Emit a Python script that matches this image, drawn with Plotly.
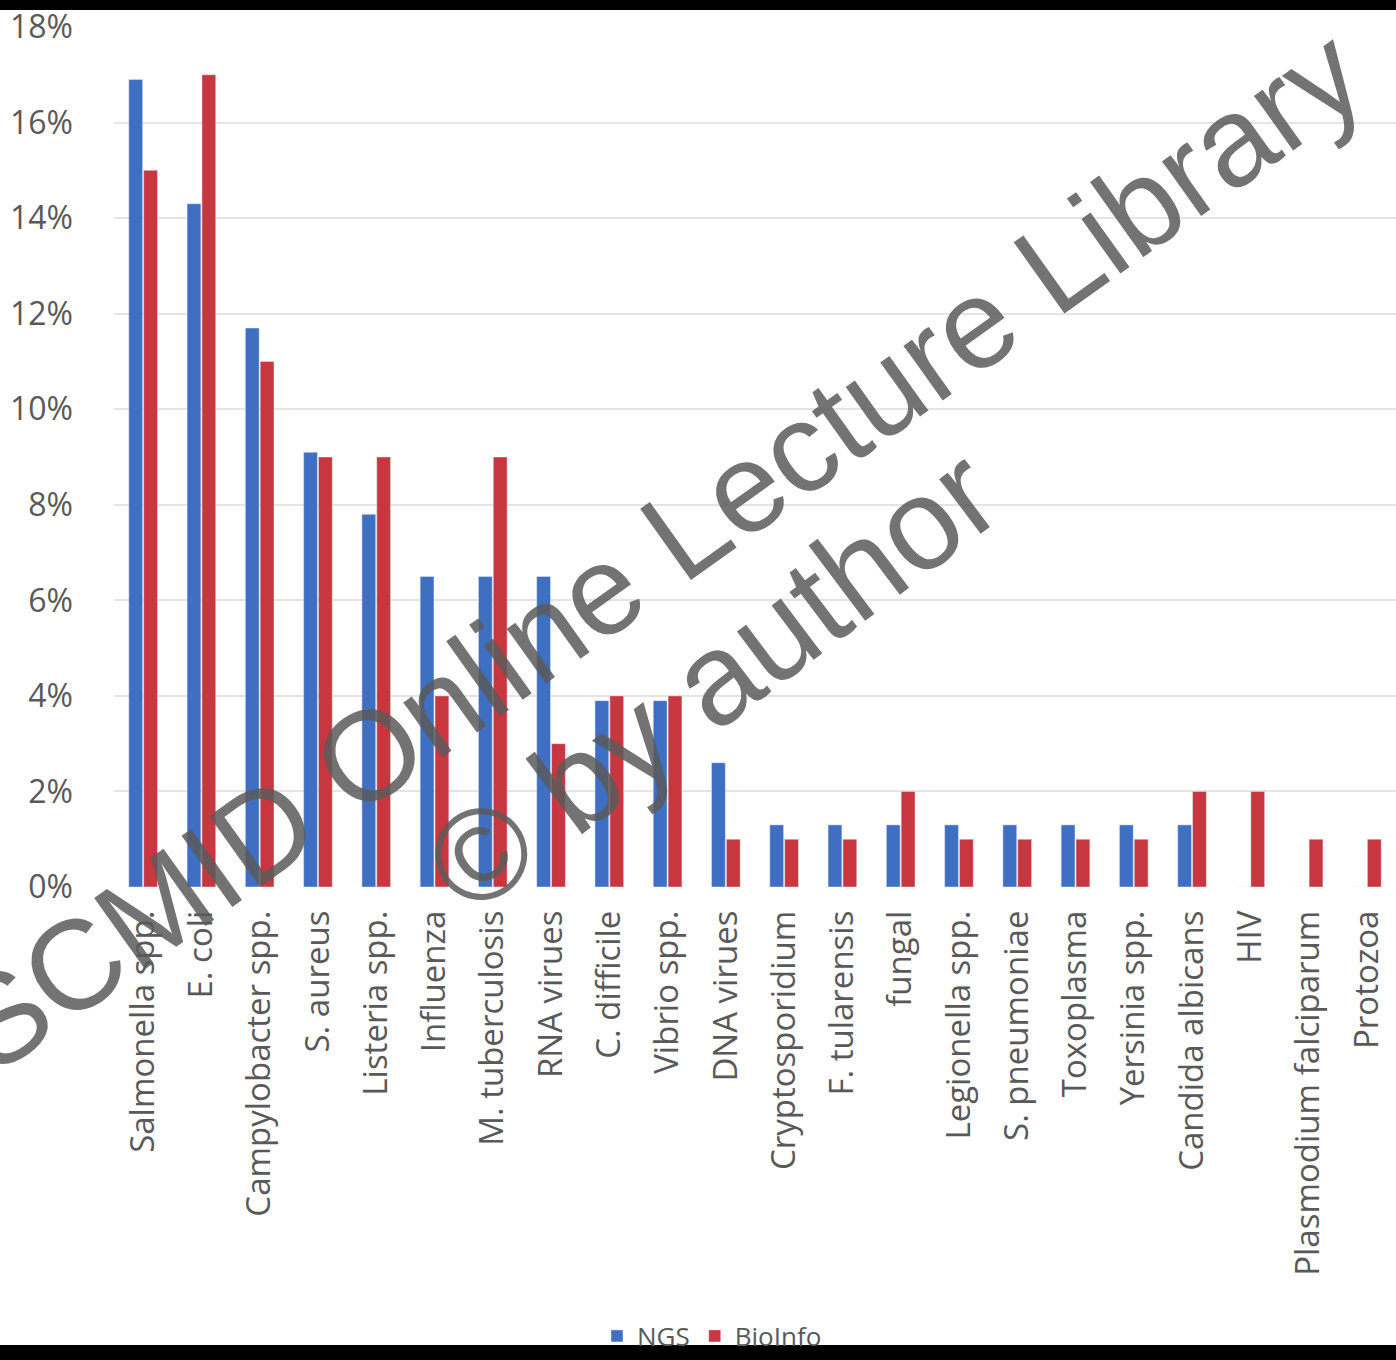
import plotly.graph_objects as go

categories = ["Salmonella spp.", "E. coli", "Campylobacter spp.", "S. aureus", "Listeria spp.",
              "Influenza", "M. tuberculosis", "RNA virues", "C. difficile", "Vibrio spp.",
              "DNA virues", "Cryptosporidium", "F. tularensis", "fungal", "Legionella spp.",
              "S. pneumoniae", "Toxoplasma", "Yersinia spp.", "Candida albicans", "HIV",
              "Plasmodium falciparum", "Protozoa"]
ngs = [16.9, 14.3, 11.7, 9.1, 7.8, 6.5, 6.5, 6.5, 3.9, 3.9, 2.6, 1.3, 1.3, 1.3, 1.3, 1.3, 1.3, 1.3, 1.3, 0, 0, 0]
bioinfo = [15, 17, 11, 9, 9, 4, 9, 3, 4, 4, 1, 1, 1, 2, 1, 1, 1, 1, 2, 2, 1, 1]
y_ticks = [0, 2, 4, 6, 8, 10, 12, 14, 16, 18]

W, H = 1396, 1360
L, R, T, B = 114, 0, 27, 473
pw, ph = W - L - R, H - T - B

def px(x):
    return (x - L) / pw

def py(y):
    return (H - B - y) / ph

fig = go.Figure()
fig.add_trace(go.Bar(name="NGS", x=categories, y=ngs, marker_color="#3E6FC2"))
fig.add_trace(go.Bar(name="BioInfo", x=categories, y=bioinfo, marker_color="#C8363F"))

fig.update_layout(
    width=W, height=H,
    margin=dict(l=L, r=R, t=T, b=B),
    paper_bgcolor="white", plot_bgcolor="white",
    barmode="group", bargap=0.49, bargroupgap=0.07,
    font=dict(family="Open Sans", color="#595959"),
    showlegend=True,
    legend=dict(orientation="h", x=px(712), xanchor="center", y=py(1336), yanchor="middle",
                bgcolor="rgba(0,0,0,0)",
                font=dict(size=26, color="#595959"), itemwidth=30),
    xaxis=dict(tickangle=-90, tickfont=dict(size=33, color="#595959"), showgrid=False,
               showline=False, ticks="", ticklabelstandoff=16),
    yaxis=dict(range=[0, 18], tickvals=y_ticks, ticktext=[f"{v}%" for v in y_ticks],
               tickfont=dict(size=32, color="#595959"), gridcolor="#e4e4e4", gridwidth=2,
               zeroline=False, showline=False, ticklabelstandoff=40),
)

fig.add_shape(type="rect", xref="paper", yref="paper", x0=px(0), x1=px(W), y0=py(0), y1=py(10),
              fillcolor="black", line_width=0, layer="above")
fig.add_shape(type="rect", xref="paper", yref="paper", x0=px(0), x1=px(W), y0=py(1345), y1=py(H),
              fillcolor="black", line_width=0, layer="above")

fig.add_annotation(text="SCMID Online Lecture Library", xref="paper", yref="paper",
                   x=px(657), y=py(550), xanchor="center", yanchor="middle", showarrow=False,
                   textangle=-35.5, font=dict(family="Liberation Sans", size=127, color="rgba(90,90,90,0.85)"))
fig.add_annotation(text="© by author", xref="paper", yref="paper",
                   x=px(712), y=py(680), xanchor="center", yanchor="middle", showarrow=False,
                   textangle=-37, font=dict(family="Liberation Sans", size=130, color="rgba(90,90,90,0.85)"))

fig.write_html("out.html")
